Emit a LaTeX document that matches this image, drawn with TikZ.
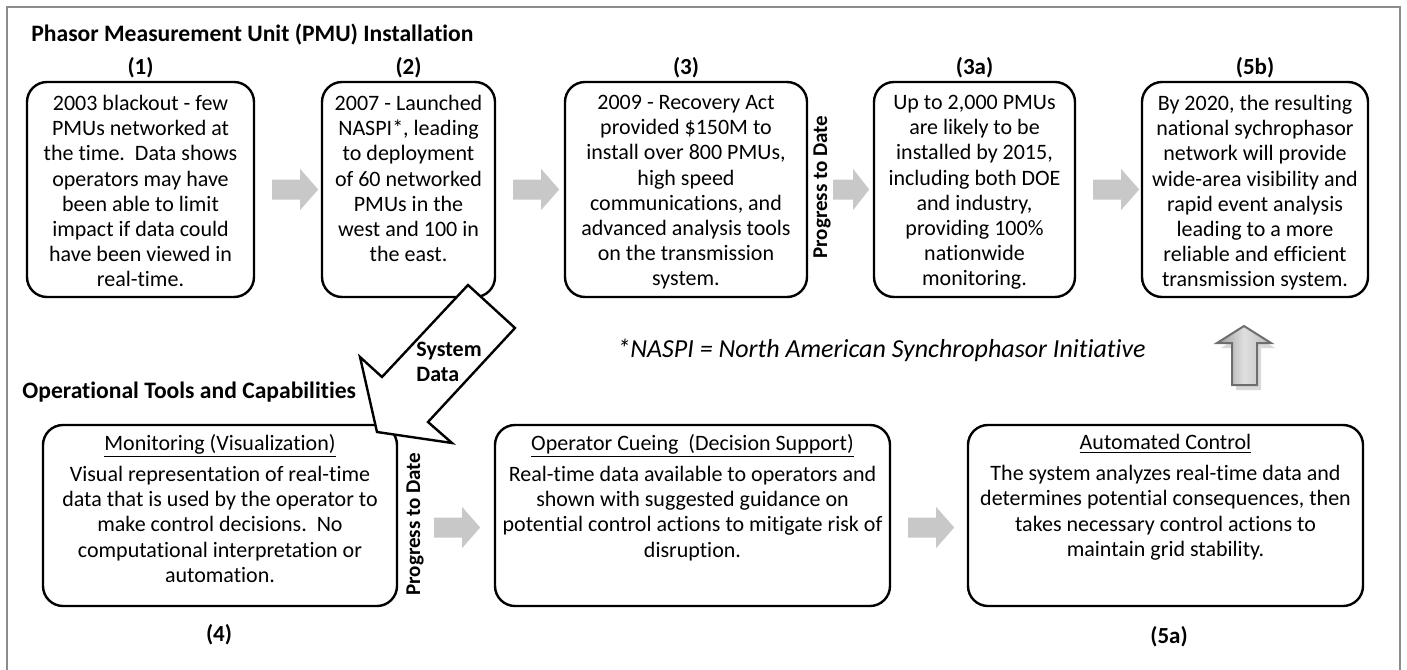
\documentclass[tikz,border=0pt]{standalone}
\usepackage{fontspec}
\setmainfont{Carlito}[Ligatures={NoCommon,NoContextual}]
\usetikzlibrary{calc}
\definecolor{agray}{RGB}{200,200,200}
\definecolor{framegray}{RGB}{140,140,140}
\definecolor{uparrowline}{RGB}{110,110,110}
\tikzset{
  rarr/.pic={\fill[agray] (0,-10) -- (28,-10) -- (28,-20.5) -- (46,0) -- (28,20.5) -- (28,10) -- (0,10) -- cycle;},
  rarrs/.pic={\fill[agray] (0,-10) -- (20,-10) -- (20,-20.5) -- (36,0) -- (20,20.5) -- (20,10) -- (0,10) -- cycle;}
}
\begin{document}
\begin{tikzpicture}[x=0.5pt,y=-0.5pt,
  box/.style={draw=black, line width=1.2pt, rounded corners=10pt, fill=white, inner sep=0pt},
  btext/.style={align=center, inner sep=0pt, anchor=north, font=\fontsize{11}{12.6}\selectfont},
  lbl/.style={font=\fontsize{11.5}{13}\selectfont\bfseries},
  hdr/.style={font=\fontsize{11.8}{14}\selectfont\bfseries, anchor=west, inner sep=0pt},
  prog/.style={font=\fontsize{10.5}{12.8}\selectfont\bfseries, rotate=90, inner sep=0pt},
]
\useasboundingbox (0,0) rectangle (1407,669);
\draw[framegray, line width=1.2pt] (7,690) -- (7,7) -- (1400,7) -- (1400,690);

\node[hdr] (h1) at (31,35) {Phasor Measurement Unit (PMU) Installation};
\node[hdr] (h2) at (22,392) {Operational Tools and Capabilities};

% top row boxes
\node[box, minimum width=113.5pt, minimum height=107.5pt] (b1) at (140.5,189.5) {};
\node[box, minimum width=86.5pt, minimum height=107.5pt] (b2) at (408.5,189.5) {};
\node[box, minimum width=121pt, minimum height=107.5pt] (b3) at (686,189.5) {};
\node[box, minimum width=100.5pt, minimum height=107.5pt] (b3a) at (974.5,189.5) {};
\node[box, minimum width=113pt, minimum height=107.5pt] (b5b) at (1255,189.5) {};

\node[btext] (t1) at ($(b1.north)+(0,14)$) {2003 blackout - few\\PMUs networked at\\the time.\ \ Data shows\\operators may have\\been able to limit\\impact if data could\\have been viewed in\\real-time.};
\node[btext] (t2) at ($(b2.north)+(0,14)$) {2007 - Launched\\NASPI*, leading\\to deployment\\of 60 networked\\PMUs in the\\west and 100 in\\the east.};
\node[btext] (t3) at ($(b3.north)+(0,14)$) {2009 - Recovery Act\\provided \$150M to\\install over 800 PMUs,\\high speed\\communications, and\\advanced analysis tools\\on the transmission\\system.};
\node[btext] (t3a) at ($(b3a.north)+(0,14)$) {Up to 2,000 PMUs\\are likely to be\\installed by 2015,\\including both DOE\\and industry,\\providing 100\%\\nationwide\\monitoring.};
\node[btext] (t5b) at ($(b5b.north)+(0,14)$) {By 2020, the resulting\\national sychrophasor\\network will provide\\wide-area visibility and\\rapid event analysis\\leading to a more\\reliable and efficient\\transmission system.};

\node[lbl] (l1) at (140.5,68) {(1)};
\node[lbl] (l2) at (408.5,68) {(2)};
\node[lbl] (l3) at (686,68) {(3)};
\node[lbl] (l3a) at (974.5,68) {(3a)};
\node[lbl] (l5b) at (1255,68) {(5b)};

\node[prog] (p1) at (822,187) {Progress to Date};

\pic at ($(b1.east)+(17,0)$) {rarr};
\pic at ($(b2.east)+(17,0)$) {rarr};
\pic at ($(b3.east)+(25,0)$) {rarrs};
\pic at ($(b3a.east)+(17,0)$) {rarr};

\node[font=\fontsize{13}{16}\selectfont\itshape, inner sep=0pt] (note) at (881.5,350) {*NASPI = North American Synchrophasor Initiative};

% up arrow
\fill[gray!30] (1248,331) -- (1275,348) -- (1261,348) -- (1261,390) -- (1236,390) -- (1236,348) -- (1221,348) -- cycle;
\shade[left color=gray!80, right color=gray!55, middle color=gray!25, draw=uparrowline, line width=1pt]
  (1244,326) -- (1271,343) -- (1257,343) -- (1257,385) -- (1232,385) -- (1232,343) -- (1217,343) -- cycle;

% bottom row
\node[box, minimum width=177pt, minimum height=90.5pt] (b4) at (220,515.5) {};
\node[box, minimum width=197.5pt, minimum height=90.5pt] (bo) at (692.5,515.5) {};
\node[box, minimum width=197.5pt, minimum height=90.5pt] (b5a) at (1165.5,515.5) {};

\node[btext] (t4) at ($(b4.north)+(0,10)$) {\underline{Monitoring (Visualization)}\\[3pt]Visual representation of real-time\\data that is used by the operator to\\make control decisions.\ \ No\\computational interpretation or\\automation.};
\node[btext] (to) at ($(bo.north)+(0,10)$) {\underline{Operator Cueing\ \ (Decision Support)}\\[3pt]Real-time data available to operators and\\shown with suggested guidance on\\potential control actions to mitigate risk of\\disruption.};
\node[btext] (t5a) at ($(b5a.north)+(0,10)$) {\underline{Automated Control}\\[3pt]The system analyzes real-time data and\\determines potential consequences, then\\takes necessary control actions to\\maintain grid stability.};

\node[lbl] (l4) at (219,635) {(4)};
\node[lbl] (l5a) at (1169,637) {(5a)};

\node[prog] (p2) at (415,524) {Progress to Date};
\pic at ($(b4.east)+(36,12)$) {rarr};
\pic at ($(bo.east)+(17,12)$) {rarr};

% System Data arrow
\draw[fill=white, line width=1.2pt, line join=miter]
  (468,285) -- (515,328) -- (428,422) -- (452,443) -- (377,432) -- (360,357) -- (382,377) -- cycle;
\node[font=\fontsize{11}{12.5}\selectfont\bfseries, align=left, anchor=north west, inner sep=0pt] (sd) at (416,342) {System\\Data};
\end{tikzpicture}
\end{document}
